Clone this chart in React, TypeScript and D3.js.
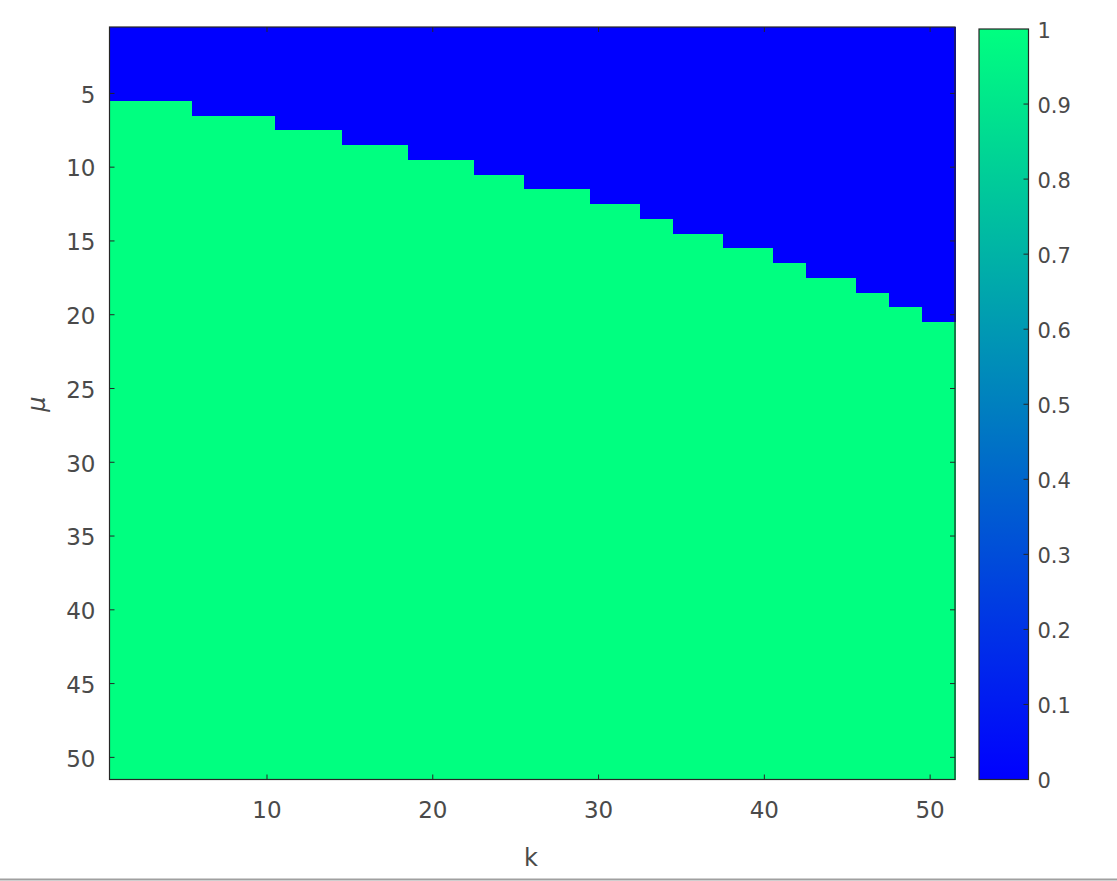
import React, { useEffect, useRef } from "react";
import * as d3 from "d3";

// k = 1..51 (columns), mu = 1..51 (rows)
const kValues: number[] = d3.range(1, 52);
const muValues: number[] = d3.range(1, 52);
// smallest mu for which the value is 1, for each k = 1..51
const threshold: number[] = [
  6, 6, 6, 6, 6,
  7, 7, 7, 7, 7,
  8, 8, 8, 8,
  9, 9, 9, 9,
  10, 10, 10, 10,
  11, 11, 11,
  12, 12, 12, 12,
  13, 13, 13,
  14, 14,
  15, 15, 15,
  16, 16, 16,
  17, 17,
  18, 18, 18,
  19, 19,
  20, 20,
  21, 21,
];
const xTicks: number[] = [10, 20, 30, 40, 50];
const yTicks: number[] = [5, 10, 15, 20, 25, 30, 35, 40, 45, 50];
const cbTicks: number[] = [0, 0.1, 0.2, 0.3, 0.4, 0.5, 0.6, 0.7, 0.8, 0.9, 1];

const W = 1117;
const H = 881;
const plot = { l: 109.5, r: 955, t: 27, b: 779.5 };
const cb = { l: 979, r: 1028.5, t: 29, b: 779.5 };
const textColor = "#4a4a4a";
const axisColor = "#262626";
const font = "'DejaVu Sans', 'Liberation Sans', sans-serif";

const winter = (v: number) => d3.rgb(0, Math.round(255 * v), Math.round(255 * (1 - v / 2))).toString();

export default function App() {
  const ref = useRef<SVGSVGElement>(null);
  useEffect(() => {
    const svg = d3.select(ref.current);
    svg.selectAll("*").remove();
    const x = d3.scaleLinear().domain([0.5, 51.5]).range([plot.l, plot.r]);
    const y = d3.scaleLinear().domain([0.5, 51.5]).range([plot.t, plot.b]);

    const cells: { k: number; mu: number; v: number }[] = [];
    kValues.forEach((k, i) => {
      muValues.forEach((mu) => cells.push({ k, mu, v: mu >= threshold[i] ? 1 : 0 }));
    });

    const g = svg.append("g");
    g.selectAll("rect.cell")
      .data(cells)
      .join("rect")
      .attr("class", "cell")
      .attr("x", (d) => x(d.k - 0.5))
      .attr("y", (d) => y(d.mu - 0.5))
      .attr("width", x(1.5) - x(0.5) + 0.6)
      .attr("height", y(1.5) - y(0.5) + 0.6)
      .attr("fill", (d) => winter(d.v))
      .attr("shape-rendering", "crispEdges");

    // frame
    g.append("rect")
      .attr("x", plot.l)
      .attr("y", plot.t)
      .attr("width", plot.r - plot.l)
      .attr("height", plot.b - plot.t)
      .attr("fill", "none")
      .attr("stroke", axisColor)
      .attr("stroke-width", 1.2);

    const tl = 5;
    xTicks.forEach((t) => {
      g.append("line").attr("x1", x(t)).attr("x2", x(t)).attr("y1", plot.b).attr("y2", plot.b - tl).attr("stroke", axisColor);
      g.append("line").attr("x1", x(t)).attr("x2", x(t)).attr("y1", plot.t).attr("y2", plot.t + tl).attr("stroke", axisColor);
      g.append("text")
        .attr("x", x(t))
        .attr("y", 810)
        .attr("dy", "0.36em")
        .attr("text-anchor", "middle")
        .attr("font-family", font)
        .attr("font-size", 23)
        .attr("fill", textColor)
        .text(t);
    });
    yTicks.forEach((t) => {
      g.append("line").attr("x1", plot.l).attr("x2", plot.l + tl).attr("y1", y(t)).attr("y2", y(t)).attr("stroke", axisColor);
      g.append("line").attr("x1", plot.r).attr("x2", plot.r - tl).attr("y1", y(t)).attr("y2", y(t)).attr("stroke", axisColor);
      g.append("text")
        .attr("x", plot.l - 14)
        .attr("y", y(t) + 1)
        .attr("dy", "0.36em")
        .attr("text-anchor", "end")
        .attr("font-family", font)
        .attr("font-size", 23)
        .attr("fill", textColor)
        .text(t);
    });

    g.append("text")
      .attr("x", 531)
      .attr("y", 866)
      .attr("text-anchor", "middle")
      .attr("font-family", font)
      .attr("font-size", 24)
      .attr("fill", textColor)
      .text("k");
    g.append("text")
      .attr("transform", `translate(45, 404) rotate(-90)`)
      .attr("text-anchor", "middle")
      .attr("font-family", font)
      .attr("font-style", "italic")
      .attr("font-size", 24)
      .attr("fill", textColor)
      .text("μ");

    // colorbar
    const defs = svg.append("defs");
    const grad = defs.append("linearGradient").attr("id", "cbgrad").attr("x1", 0).attr("x2", 0).attr("y1", 1).attr("y2", 0);
    cbTicks.forEach((t) => grad.append("stop").attr("offset", t).attr("stop-color", winter(t)));
    const cy = d3.scaleLinear().domain([0, 1]).range([cb.b, cb.t]);
    svg.append("rect")
      .attr("x", cb.l)
      .attr("y", cb.t)
      .attr("width", cb.r - cb.l)
      .attr("height", cb.b - cb.t)
      .attr("fill", "url(#cbgrad)")
      .attr("stroke", axisColor)
      .attr("stroke-width", 1.2);
    cbTicks.forEach((t) => {
      if (t > 0 && t < 1)
        svg.append("line").attr("x1", cb.r).attr("x2", cb.r - tl).attr("y1", cy(t)).attr("y2", cy(t)).attr("stroke", axisColor);
      svg.append("text")
        .attr("x", cb.r + 9)
        .attr("y", cy(t) + 1)
        .attr("dy", "0.36em")
        .attr("font-family", font)
        .attr("font-size", 21)
        .attr("fill", textColor)
        .text(String(t));
    });

    // bottom separator line
    svg.append("line").attr("x1", 0).attr("x2", W).attr("y1", 879.5).attr("y2", 879.5).attr("stroke", "#a0a0a0").attr("stroke-width", 2);
  }, []);
  return (
    <svg
      ref={ref}
      width={W}
      height={H}
      style={{ position: "absolute", left: 0, top: 0, background: "#fff" }}
    />
  );
}
